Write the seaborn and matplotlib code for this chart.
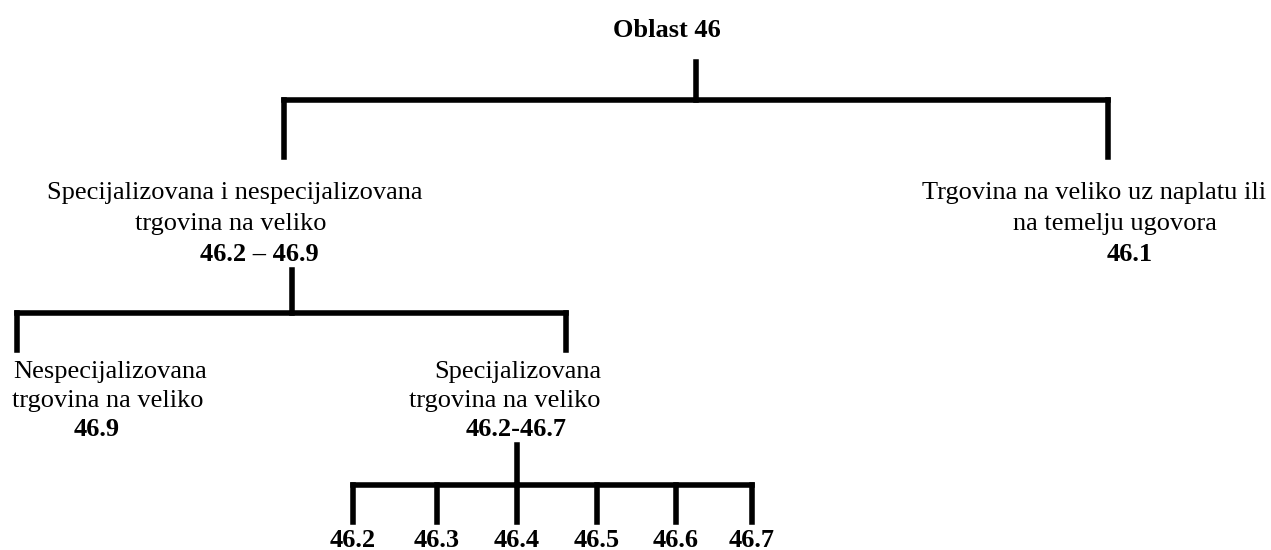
import matplotlib
matplotlib.use('Agg')
import matplotlib.pyplot as plt
import seaborn as sns
import pandas as pd

sns.set_style("white")
plt.rcParams['font.family'] = 'serif'
plt.rcParams['font.serif'] = ['Liberation Serif', 'DejaVu Serif']

# tree content
root_label = "Oblast 46"
level1_text = [["Specijalizovana i nespecijalizovana", "trgovina na veliko"],
               ["Trgovina na veliko uz naplatu ili", "na temelju ugovora"]]
level1_codes = ["46.2 \u2013 46.9", "46.1"]
level2_text = [["Nespecijalizovana", "trgovina na veliko"],
               ["Specijalizovana", "trgovina na veliko"]]
level2_codes = ["46.9", "46.2-46.7"]
level3_codes = ["46.2", "46.3", "46.4", "46.5", "46.6", "46.7"]

# layout (pixel coordinates of the page, y down)
root_xy = (667, 37)
root_stem = (696, 62, 100)
l1_bar_y, l1_drop_end = 100, 157
l1_x = [284, 1108]
l1_text_x = [[235, 231, 259], [1094, 1115, 1130]]
l1_text_y = [199, 230, 261]
l2_stem = (292, 270, 313)
l2_bar_y, l2_drop_end = 313, 350
l2_x = [17, 566]
l2_text_x = [[110, 108, 97], [518, 505, 516]]
l2_text_y = [378, 407, 436]
l3_stem = (517, 445, 485)
l3_bar_y, l3_drop_end = 485, 522
l3_x = [353, 437, 517, 597, 676, 752]
l3_text_y = 547


def bracket(stem, bar_y, drop_end, xs):
    segs = [[(stem[0], stem[1]), (stem[0], stem[2])],
            [(min(xs), bar_y), (max(xs), bar_y)]]
    for x in xs:
        segs.append([(x, bar_y), (x, drop_end)])
    return segs


segments = (bracket(root_stem, l1_bar_y, l1_drop_end, l1_x)
            + bracket(l2_stem, l2_bar_y, l2_drop_end, l2_x)
            + bracket(l3_stem, l3_bar_y, l3_drop_end, l3_x))
rows = []
for i, seg in enumerate(segments):
    for x, y in seg:
        rows.append({"seg": i, "x": x, "y": y})
edges = pd.DataFrame(rows)

fig = plt.figure(figsize=(12.71, 5.5), dpi=100)
ax = fig.add_axes([0, 0, 1, 1])
sns.lineplot(data=edges, x="x", y="y", units="seg", estimator=None,
             color="black", linewidth=4, sort=False, ax=ax,
             solid_capstyle="projecting")

fs = 19
kw = dict(ha="center", va="baseline", fontsize=fs, color="black")
ax.text(root_xy[0], root_xy[1], root_label, fontweight="bold", **kw)
for lines, code, xs in zip(level1_text, level1_codes, l1_text_x):
    for txt, x, y in zip(lines, xs[:2], l1_text_y[:2]):
        ax.text(x, y, txt, **kw)
    ax.text(xs[2], l1_text_y[2], code, fontweight="bold", **kw)
for lines, code, xs in zip(level2_text, level2_codes, l2_text_x):
    for txt, x, y in zip(lines, xs[:2], l2_text_y[:2]):
        ax.text(x, y, txt, **kw)
    ax.text(xs[2], l2_text_y[2], code, fontweight="bold", **kw)
for code, x in zip(level3_codes, l3_x):
    ax.text(x, l3_text_y, code, fontweight="bold", **kw)

ax.set_xlim(0, 1271)
ax.set_ylim(550, 0)
ax.set_axis_off()
plt.savefig("out.png", dpi=100)
plt.close(fig)
